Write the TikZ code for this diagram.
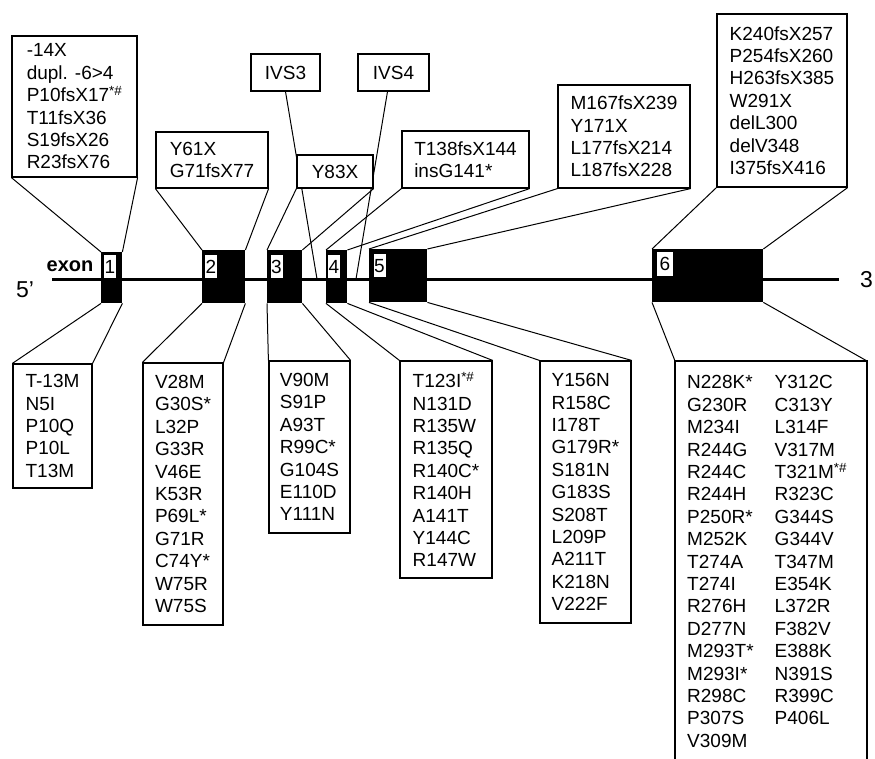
\documentclass[tikz,border=0pt]{standalone}
\usepackage{fontspec}
\setmainfont{Liberation Sans}
\usetikzlibrary{calc}
\begin{document}
\begin{tikzpicture}[x=1pt,y=-1pt,
  mut/.style={draw, line width=1.2pt, fill=white, inner sep=0pt, align=left,
              font=\fontsize{19}{22.4}\selectfont},
  exonbox/.style={fill=black, inner sep=0pt, anchor=north west},
  num/.style={fill=white, inner sep=0pt, minimum width=12pt, minimum height=23pt,
              font=\fontsize{19}{19}\selectfont},
  link/.style={line width=1pt},
  endlabel/.style={inner sep=0pt, font=\fontsize{23}{23}\selectfont},
]
\useasboundingbox (0,0) rectangle (875,759);

% gene backbone
\coordinate (s5) at (52,280);
\coordinate (s3) at (839,280);
\draw[line width=3pt] (s5) -- (s3);

% intronic mutations
\node[mut, minimum width=69pt, minimum height=37pt] (ivs3) at (285.5,72.5) {IVS3};
\node[mut, minimum width=71pt, minimum height=37pt] (ivs4) at (393.5,72.5) {IVS4};
\coordinate (i3) at (317,279);
\coordinate (i4) at (356,279);
\draw[link] (ivs3.south) -- (i3);
\draw[link] ($(ivs4.south)+(-6,0)$) -- (i4);

% exons
\node[exonbox, minimum width=21pt,  minimum height=51pt] (ex1) at (101,252) {};
\node[exonbox, minimum width=43pt,  minimum height=53pt] (ex2) at (202,250) {};
\node[exonbox, minimum width=35pt,  minimum height=53pt] (ex3) at (267,250) {};
\node[exonbox, minimum width=21pt,  minimum height=53pt] (ex4) at (326,250) {};
\node[exonbox, minimum width=58pt,  minimum height=53pt] (ex5) at (369,249) {};
\node[exonbox, minimum width=111pt, minimum height=53pt] (ex6) at (652,249) {};

% exon numbers
\node[num] (n1) at (110,266.5) {1};
\node[num] (n2) at (211,266.5) {2};
\node[num] (n3) at (276.5,266.5) {3};
\node[num] (n4) at (334,266.5) {4};
\node[num] (n5) at (379.5,266) {5};
\node[num, minimum width=16pt, minimum height=24pt] (n6) at (665,264) {6};

% end labels
\node[endlabel] (five) at (25,290) {5’};
\node[endlabel] (three) at (866.5,280) {3};
\node[inner sep=0pt, font=\fontsize{20}{20}\selectfont\bfseries] (exon) at (70,266) {exon};

% truncating mutations (above)
\node[mut, minimum width=125pt, minimum height=141pt] (ta) at (74.5,106.5)
  {-14X\\dupl. -6>4\\P10fsX17\textsuperscript{*\#}\\T11fsX36\\S19fsX26\\R23fsX76};
\node[mut, minimum width=112pt, minimum height=56pt] (tb) at (212,160)
  {Y61X\\G71fsX77};
\node[mut, minimum width=76pt, minimum height=33pt] (tc) at (335,171.5) {Y83X};
\node[mut, minimum width=127pt, minimum height=57pt] (td) at (465.5,159.5)
  {T138fsX144\\insG141*};
\node[mut, minimum width=132pt, minimum height=103pt] (te) at (624,136.5)
  {M167fsX239\\Y171X\\L177fsX214\\L187fsX228};
\node[mut, minimum width=130pt, minimum height=173pt] (tf) at (782,100.5)
  {K240fsX257\\P254fsX260\\H263fsX385\\W291X\\delL300\\delV348\\I375fsX416};

\draw[link] (ta.south west) -- (ex1.north west);
\draw[link] (ta.south east) -- (ex1.north east);
\draw[link] (tb.south west) -- (ex2.north west);
\draw[link] (tb.south east) -- (ex2.north east);
\draw[link] (tc.south west) -- (ex3.north west);
\draw[link] (tc.south east) -- (ex3.north east);
\draw[link] (td.south west) -- (ex4.north west);
\draw[link] (td.south east) -- (ex4.north east);
\draw[link] (te.south west) -- (ex5.north west);
\draw[link] (te.south east) -- (ex5.north east);
\draw[link] (tf.south west) -- (ex6.north west);
\draw[link] (tf.south east) -- (ex6.north east);

% missense mutations (below)
\node[mut, minimum width=79pt, minimum height=124pt] (ba) at (52.5,426)
  {T-13M\\N5I\\P10Q\\P10L\\T13M};
\node[mut, minimum width=80pt, minimum height=262pt] (bb) at (183,494)
  {V28M\\G30S*\\L32P\\G33R\\V46E\\K53R\\P69L*\\G71R\\C74Y*\\W75R\\W75S};
\node[mut, minimum width=81pt, minimum height=172pt] (bc) at (309.5,447)
  {V90M\\S91P\\A93T\\R99C*\\G104S\\E110D\\Y111N};
\node[mut, minimum width=92pt, minimum height=217pt] (bd) at (446,469.5)
  {T123I\textsuperscript{*\#}\\N131D\\R135W\\R135Q\\R140C*\\R140H\\A141T\\Y144C\\R147W};
\node[mut, minimum width=91pt, minimum height=262pt] (be) at (585.5,492)
  {Y156N\\R158C\\I178T\\G179R*\\S181N\\G183S\\S208T\\L209P\\A211T\\K218N\\V222F};

% exon 6 list runs off the bottom edge
\coordinate (bfnw) at (675,361);
\coordinate (bfne) at (867,361);
\draw[line width=1.2pt] (675,759) -- (bfnw) -- (bfne) -- (867,759);
\node[inner sep=0pt, anchor=north west, font=\fontsize{19}{22.4}\selectfont] (bf) at (687,373)
  {\begin{tabular}{@{}l@{\hspace{21pt}}l@{}}
   N228K* & Y312C\\
   G230R  & C313Y\\
   M234I  & L314F\\
   R244G  & V317M\\
   R244C  & T321M\textsuperscript{*\#}\\
   R244H  & R323C\\
   P250R* & G344S\\
   M252K  & G344V\\
   T274A  & T347M\\
   T274I  & E354K\\
   R276H  & L372R\\
   D277N  & F382V\\
   M293T* & E388K\\
   M293I* & N391S\\
   R298C  & R399C\\
   P307S  & P406L\\
   V309M  & \\
   \end{tabular}};

\draw[link] (ex1.south west) -- (ba.north west);
\draw[link] (ex1.south east) -- (ba.north east);
\draw[link] (ex2.south west) -- (bb.north west);
\draw[link] (ex2.south east) -- (bb.north east);
\draw[link] (ex3.south west) -- (bc.north west);
\draw[link] (ex3.south east) -- (bc.north east);
\draw[link] (ex4.south west) -- (bd.north west);
\draw[link] (ex4.south east) -- (bd.north east);
\draw[link] (ex5.south west) -- (be.north west);
\draw[link] (ex5.south east) -- (be.north east);
\draw[link] (ex6.south west) -- (bfnw);
\draw[link] (ex6.south east) -- (bfne);
\end{tikzpicture}
\end{document}
